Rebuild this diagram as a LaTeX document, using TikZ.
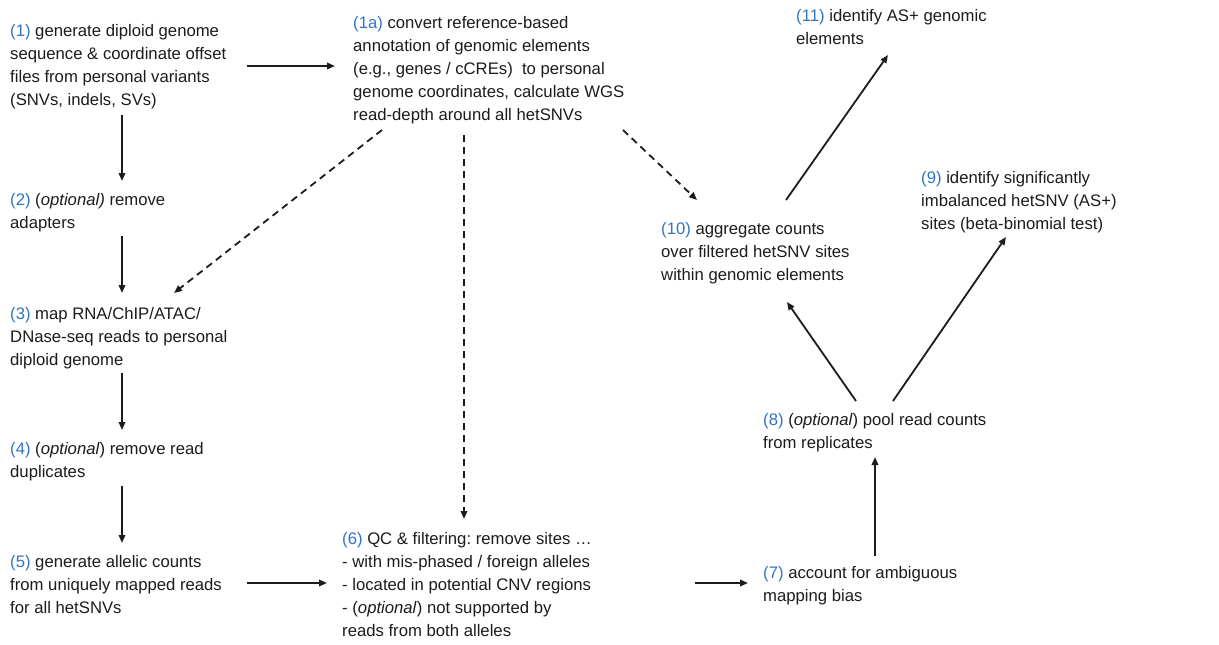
\documentclass[tikz,border=0pt]{standalone}
\usepackage{fontspec}
\setmainfont{Liberation Sans}
\usetikzlibrary{arrows.meta}
\definecolor{stepblue}{RGB}{52,116,196}
\definecolor{txt}{RGB}{28,28,28}
\newcommand{\sn}[1]{\textcolor{stepblue}{#1}}
\frenchspacing
\begin{document}
\begin{tikzpicture}[x=1pt,y=-1pt,
  lbl/.style={anchor=north west,inner sep=0pt,align=left,text=txt,
    font=\fontsize{16.7}{23}\selectfont},
  conn/.style={line width=1.8pt,draw=txt,-{Triangle[length=8pt,width=6.5pt]}},
  dconn/.style={conn,dash pattern=on 7pt off 5pt}]
\fill[white] (0,0) rectangle (1219,645);
\useasboundingbox (0,0) rectangle (1219,645);
\node[lbl] (n1) at (10,24) {\sn{(1)} generate diploid genome\\sequence \& coordinate offset\\files from personal variants\\(SNVs, indels, SVs)};
\node[lbl] (n1a) at (353,16) {\sn{(1a)} convert reference-based\\annotation of genomic elements\\(e.g., genes / cCREs)\ \ to personal\\genome coordinates, calculate WGS\\read-depth around all hetSNVs};
\node[lbl] (n2) at (10,193) {\sn{(2)} (\textit{optional)} remove\\adapters};
\node[lbl] (n3) at (10,307) {\sn{(3)} map RNA/ChIP/ATAC/\\DNase-seq reads to personal\\diploid genome};
\node[lbl] (n4) at (10,442) {\sn{(4)} (\textit{optional}) remove read\\duplicates};
\node[lbl] (n5) at (10,555) {\sn{(5)} generate allelic counts\\from uniquely mapped reads\\for all hetSNVs};
\node[lbl] (n6) at (342,532) {\sn{(6)} QC \& filtering: remove sites …\\- with mis-phased / foreign alleles\\- located in potential CNV regions\\- (\textit{optional}) not supported by\\reads from both alleles};
\node[lbl] (n7) at (763,566) {\sn{(7)} account for ambiguous\\mapping bias};
\node[lbl] (n8) at (763,413) {\sn{(8)} (\textit{optional}) pool read counts\\from replicates};
\node[lbl] (n9) at (921,171) {\sn{(9)} identify significantly\\imbalanced hetSNV (AS+)\\sites (beta-binomial test)};
\node[lbl] (n10) at (661,222) {\sn{(10)} aggregate counts\\over filtered hetSNV sites\\within genomic elements};
\node[lbl] (n11) at (796,9) {\sn{(11)} identify AS+ genomic\\elements};
% solid connectors
\draw[conn] ([shift={(237,42)}]n1.north west) -- ([shift={(-18,50)}]n1a.north west);
\draw[conn] ([shift={(112,91)}]n1.north west) -- ([shift={(112,-12)}]n2.north west);
\draw[conn] ([shift={(112,43)}]n2.north west) -- ([shift={(112,-14)}]n3.north west);
\draw[conn] ([shift={(112,66)}]n3.north west) -- ([shift={(112,-12)}]n4.north west);
\draw[conn] ([shift={(112,44)}]n4.north west) -- ([shift={(112,-12)}]n5.north west);
\draw[conn] ([shift={(237,28)}]n5.north west) -- ([shift={(-15,51)}]n6.north west);
\draw[conn] ([shift={(353,51)}]n6.north west) -- ([shift={(-15,17)}]n7.north west);
\draw[conn] ([shift={(112,-10)}]n7.north west) -- ([shift={(112,44)}]n8.north west);
\draw[conn] ([shift={(93,-12)}]n8.north west) -- ([shift={(126,80)}]n10.north west);
\draw[conn] ([shift={(130,-12)}]n8.north west) -- ([shift={(85,66)}]n9.north west);
\draw[conn] ([shift={(125,-22)}]n10.north west) -- ([shift={(92,46)}]n11.north west);
% dashed connectors
\draw[dconn] ([shift={(29,114)}]n1a.north west) -- ([shift={(164,-14)}]n3.north west);
\draw[dconn] ([shift={(111,119)}]n1a.north west) -- ([shift={(122,-13)}]n6.north west);
\draw[dconn] ([shift={(270,114)}]n1a.north west) -- ([shift={(36,-22)}]n10.north west);
\end{tikzpicture}
\end{document}
